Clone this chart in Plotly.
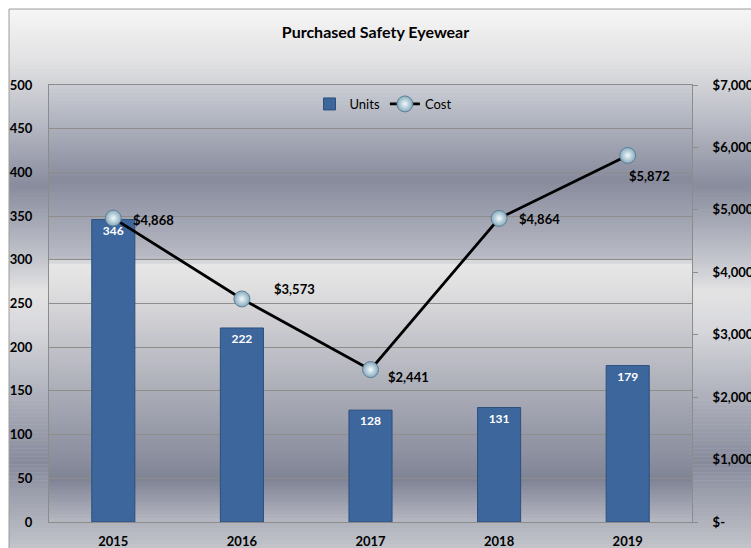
import plotly.graph_objects as go

years = ["2015", "2016", "2017", "2018", "2019"]
units = [346, 222, 128, 131, 179]
cost = [4868, 3573, 2441, 4864, 5872]
cost_labels = ["$4,868", "$3,573", "$2,441", "$4,864", "$5,872"]
left_ticks = list(range(0, 501, 50))
right_tickvals = [0, 1000, 2000, 3000, 4000, 5000, 6000, 7000]
right_ticktext = ["$-", "$1,000", "$2,000", "$3,000", "$4,000", "$5,000", "$6,000", "$7,000"]

# label offsets (style only, px)
label_shift = [(18, -2, "left"), (30, 10, "left"), (15, -7, "left"), (18, -1, "left"), (-1, -21, "left")]

W, H = 751, 548
ML, MR, MT, MB = 49, 59, 85, 26
PW, PH = W - ML - MR, H - MT - MB

FONT = "Lato, 'Open Sans', sans-serif"


def px_to_paper_y(py):
    return (H - MB - py) / PH


def px_to_paper_x(px):
    return (px - ML) / PW


def hex2rgb(h):
    h = h.lstrip("#")
    return tuple(int(h[i:i + 2], 16) for i in (0, 2, 4))


def interp(stops, py):
    for (y0, c0), (y1, c1) in zip(stops[:-1], stops[1:]):
        if y0 <= py <= y1:
            t = (py - y0) / (y1 - y0) if y1 > y0 else 0
            a, b = hex2rgb(c0), hex2rgb(c1)
            return "rgb(%d,%d,%d)" % tuple(round(a[i] + (b[i] - a[i]) * t) for i in range(3))
    return stops[-1][1]


def gradient_shapes(stops, x0px, x1px, y0px, y1px, n):
    shapes = []
    step = (y1px - y0px) / n
    for i in range(n):
        ya = y0px + i * step
        yb = ya + step + 0.6
        col = interp(stops, ya + step / 2)
        shapes.append(dict(type="rect", xref="paper", yref="paper",
                           x0=px_to_paper_x(x0px), x1=px_to_paper_x(x1px),
                           y0=px_to_paper_y(min(yb, y1px)), y1=px_to_paper_y(ya),
                           line=dict(width=0), fillcolor=col, layer="below"))
    return shapes


outer_stops = [(9, "#f6f6f6"), (60, "#e2e2e4"), (130, "#b3b6c0"), (185, "#888c9d"),
               (262, "#c6c8cf"), (292, "#e3e3e4"), (330, "#d6d7db"), (462, "#868a9b"),
               (548, "#c2c4ca")]
plot_stops = [(85, "#cacdd4"), (180, "#878b9c"), (258, "#b9bcc5"), (264, "#e7e7e7"),
              (290, "#dededf"), (340, "#c4c5cb"), (480, "#7f8496"), (522, "#b6b9c1")]

shapes = []
shapes += gradient_shapes(outer_stops, 9, 760, 9, 548, 135)
shapes += gradient_shapes(plot_stops, ML, ML + PW, MT, MT + PH, 110)
shapes.append(dict(type="line", xref="paper", yref="paper",
                   x0=px_to_paper_x(9), x1=px_to_paper_x(760),
                   y0=px_to_paper_y(9), y1=px_to_paper_y(9),
                   line=dict(color="#9c9c9c", width=1), layer="below"))
shapes.append(dict(type="line", xref="paper", yref="paper",
                   x0=px_to_paper_x(9), x1=px_to_paper_x(9),
                   y0=px_to_paper_y(9), y1=px_to_paper_y(560),
                   line=dict(color="#9c9c9c", width=1), layer="below"))

fig = go.Figure()
fig.add_trace(go.Bar(
    x=years, y=units, name="Units",
    marker=dict(color="#3d669c", line=dict(color="#2c4f7e", width=1)),
    text=[str(u) for u in units], textposition="inside", insidetextanchor="end",
    textfont=dict(color="white", size=12, family=FONT, weight="bold"),
    textangle=0, cliponaxis=False,
))
fig.add_trace(go.Scatter(
    x=years, y=cost, name="Cost", yaxis="y2", mode="lines+markers",
    line=dict(color="black", width=2.8),
    marker=dict(size=16, color="#86aabd", line=dict(color="#5d7f96", width=1),
                gradient=dict(type="radial", color="#f2f9fb")),
    cliponaxis=False,
))

annotations = []
for i, (c, lab, (dx, dy, anc)) in enumerate(zip(cost, cost_labels, label_shift)):
    # category axis: position by category index of years[i]
    annotations.append(dict(x=i, y=c, xref="x", yref="y2", text=lab, showarrow=False,
                            xanchor=anc, yanchor="middle", xshift=dx, yshift=dy,
                            font=dict(color="black", size=13, family=FONT, weight="bold")))

fig.update_layout(
    width=W, height=H,
    margin=dict(l=ML, r=MR, t=MT, b=MB, autoexpand=False),
    paper_bgcolor="white", plot_bgcolor="rgba(0,0,0,0)",
    font=dict(family=FONT, color="black", size=13),
    title=dict(text="Purchased Safety Eyewear", x=0.5, xanchor="center",
               y=1 - 32 / H, yanchor="middle",
               font=dict(size=16, family=FONT, weight="bold", color="black")),
    bargap=0.665,
    showlegend=True,
    legend=dict(orientation="h", x=px_to_paper_x(383), xanchor="center",
                y=px_to_paper_y(104), yanchor="middle", bgcolor="rgba(0,0,0,0)",
                font=dict(size=13, family=FONT), itemwidth=30, tracegroupgap=0),
    xaxis=dict(type="category", categoryorder="array", categoryarray=years,
               range=[-0.5, len(years) - 0.5], autorange=False,
               showgrid=False, showline=True, linecolor="#8c8c8c", linewidth=1,
               mirror=True, ticks="", tickfont=dict(size=13, weight="bold"),
               ticklabelstandoff=7, automargin=False),
    yaxis=dict(range=[0, 500], tickvals=left_ticks, showgrid=True, gridcolor="#8f8d8a",
               gridwidth=1, showline=True, linecolor="#8c8c8c", linewidth=1,
               ticks="", tickfont=dict(size=13, weight="bold"), ticklabelstandoff=13,
               zeroline=False, automargin=False),
    yaxis2=dict(range=[0, 7000], overlaying="y", side="right", tickvals=right_tickvals,
                ticktext=right_ticktext, showgrid=False, showline=True,
                linecolor="#8c8c8c", linewidth=1, ticks="outside", ticklen=5,
                tickcolor="#8c8c8c", tickfont=dict(size=13, weight="bold"),
                ticklabelstandoff=12, zeroline=False, automargin=False),
    shapes=shapes,
    annotations=annotations,
)

fig.write_html("out.html", config={"displayModeBar": False},
               post_script="document.body.style.margin='0';document.body.style.overflow='hidden';")
